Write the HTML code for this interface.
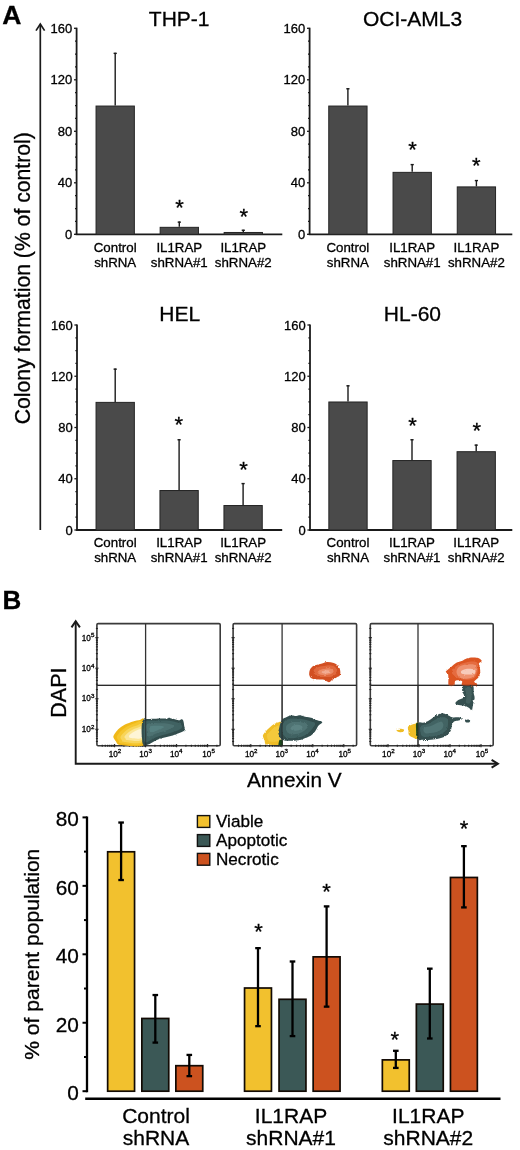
<!DOCTYPE html>
<html><head><meta charset="utf-8"><title>Figure</title>
<style>
html,body{margin:0;padding:0;background:#fff;}
svg{display:block;font-family:"Liberation Sans", sans-serif;will-change:transform;}
text{stroke:#000;stroke-width:0.3px;}
</style></head>
<body>
<svg width="520" height="1150" viewBox="0 0 520 1150" font-family='"Liberation Sans", sans-serif' fill="#000">
<defs><filter id="rough" x="-2%" y="-2%" width="104%" height="104%"><feTurbulence type="fractalNoise" baseFrequency="0.45" numOctaves="2" seed="7" result="n"/><feDisplacementMap in="SourceGraphic" in2="n" scale="2.4" xChannelSelector="R" yChannelSelector="G"/></filter></defs>
<rect width="520" height="1150" fill="#fff"/>
<text x="2.2" y="23.8" font-size="26.5" font-weight="bold">A</text>
<line x1="40.3" y1="24.5" x2="40.3" y2="530" stroke="#1a1a1a" stroke-width="1.7"/>
<polyline points="36,30.6 40.3,24 44.6,30.6" fill="none" stroke="#1a1a1a" stroke-width="1.7" stroke-linejoin="miter"/>
<text transform="translate(30.2,278.2) rotate(-90)" font-size="21.2" text-anchor="middle">Colony formation (% of control)</text>
<line x1="76.6" y1="27.7" x2="76.6" y2="235" stroke="#1a1a1a" stroke-width="1.8"/>
<line x1="74" y1="234.3" x2="76.6" y2="234.3" stroke="#1a1a1a" stroke-width="1.3"/>
<text x="72.3" y="238.9" font-size="13" text-anchor="end">0</text>
<line x1="75" y1="221.43" x2="76.6" y2="221.43" stroke="#1a1a1a" stroke-width="1.3"/>
<line x1="75" y1="208.55" x2="76.6" y2="208.55" stroke="#1a1a1a" stroke-width="1.3"/>
<line x1="75" y1="195.68" x2="76.6" y2="195.68" stroke="#1a1a1a" stroke-width="1.3"/>
<line x1="74" y1="182.8" x2="76.6" y2="182.8" stroke="#1a1a1a" stroke-width="1.3"/>
<text x="72.3" y="187.4" font-size="13" text-anchor="end">40</text>
<line x1="75" y1="169.93" x2="76.6" y2="169.93" stroke="#1a1a1a" stroke-width="1.3"/>
<line x1="75" y1="157.05" x2="76.6" y2="157.05" stroke="#1a1a1a" stroke-width="1.3"/>
<line x1="75" y1="144.18" x2="76.6" y2="144.18" stroke="#1a1a1a" stroke-width="1.3"/>
<line x1="74" y1="131.3" x2="76.6" y2="131.3" stroke="#1a1a1a" stroke-width="1.3"/>
<text x="72.3" y="135.9" font-size="13" text-anchor="end">80</text>
<line x1="75" y1="118.42" x2="76.6" y2="118.42" stroke="#1a1a1a" stroke-width="1.3"/>
<line x1="75" y1="105.55" x2="76.6" y2="105.55" stroke="#1a1a1a" stroke-width="1.3"/>
<line x1="75" y1="92.68" x2="76.6" y2="92.68" stroke="#1a1a1a" stroke-width="1.3"/>
<line x1="74" y1="79.8" x2="76.6" y2="79.8" stroke="#1a1a1a" stroke-width="1.3"/>
<text x="72.3" y="84.4" font-size="13" text-anchor="end">120</text>
<line x1="75" y1="66.93" x2="76.6" y2="66.93" stroke="#1a1a1a" stroke-width="1.3"/>
<line x1="75" y1="54.05" x2="76.6" y2="54.05" stroke="#1a1a1a" stroke-width="1.3"/>
<line x1="75" y1="41.18" x2="76.6" y2="41.18" stroke="#1a1a1a" stroke-width="1.3"/>
<line x1="74" y1="28.3" x2="76.6" y2="28.3" stroke="#1a1a1a" stroke-width="1.3"/>
<text x="72.3" y="32.9" font-size="13" text-anchor="end">160</text>
<line x1="75.7" y1="234.3" x2="282.3" y2="234.3" stroke="#1a1a1a" stroke-width="1.8"/>
<rect x="96.05" y="106.05" width="38.3" height="128.25" fill="#4a4a4a" stroke="#242424" stroke-width="1"/>
<line x1="115.2" y1="52.76" x2="115.2" y2="105.55" stroke="#1a1a1a" stroke-width="1.4"/>
<line x1="113.6" y1="53.36" x2="116.8" y2="53.36" stroke="#1a1a1a" stroke-width="1.4"/>
<rect x="160.15" y="227.33" width="38.3" height="6.97" fill="#4a4a4a" stroke="#242424" stroke-width="1"/>
<line x1="179.3" y1="221.55" x2="179.3" y2="226.83" stroke="#1a1a1a" stroke-width="1.4"/>
<line x1="177.7" y1="222.15" x2="180.9" y2="222.15" stroke="#1a1a1a" stroke-width="1.4"/>
<text x="179.6" y="214.9" font-size="22" text-anchor="middle" dy="0.4">*</text>
<rect x="224.15" y="232.48" width="38.3" height="1.82" fill="#4a4a4a" stroke="#242424" stroke-width="1"/>
<line x1="243.3" y1="229.67" x2="243.3" y2="231.98" stroke="#1a1a1a" stroke-width="1.4"/>
<line x1="241.7" y1="230.27" x2="244.9" y2="230.27" stroke="#1a1a1a" stroke-width="1.4"/>
<text x="243.7" y="223.5" font-size="22" text-anchor="middle" dy="0.4">*</text>
<text x="179.2" y="25.5" font-size="21" text-anchor="middle">THP-1</text>
<text x="115.2" y="252.2" font-size="13.3" text-anchor="middle">Control</text>
<text x="115.2" y="267.2" font-size="13.3" text-anchor="middle">shRNA</text>
<text x="179.3" y="252.2" font-size="13.3" text-anchor="middle">IL1RAP</text>
<text x="179.3" y="267.2" font-size="13.3" text-anchor="middle">shRNA#1</text>
<text x="243.3" y="252.2" font-size="13.3" text-anchor="middle">IL1RAP</text>
<text x="243.3" y="267.2" font-size="13.3" text-anchor="middle">shRNA#2</text>
<line x1="309.6" y1="27.7" x2="309.6" y2="235" stroke="#1a1a1a" stroke-width="1.8"/>
<line x1="307" y1="234.3" x2="309.6" y2="234.3" stroke="#1a1a1a" stroke-width="1.3"/>
<text x="305.3" y="238.9" font-size="13" text-anchor="end">0</text>
<line x1="308" y1="221.43" x2="309.6" y2="221.43" stroke="#1a1a1a" stroke-width="1.3"/>
<line x1="308" y1="208.55" x2="309.6" y2="208.55" stroke="#1a1a1a" stroke-width="1.3"/>
<line x1="308" y1="195.68" x2="309.6" y2="195.68" stroke="#1a1a1a" stroke-width="1.3"/>
<line x1="307" y1="182.8" x2="309.6" y2="182.8" stroke="#1a1a1a" stroke-width="1.3"/>
<text x="305.3" y="187.4" font-size="13" text-anchor="end">40</text>
<line x1="308" y1="169.93" x2="309.6" y2="169.93" stroke="#1a1a1a" stroke-width="1.3"/>
<line x1="308" y1="157.05" x2="309.6" y2="157.05" stroke="#1a1a1a" stroke-width="1.3"/>
<line x1="308" y1="144.18" x2="309.6" y2="144.18" stroke="#1a1a1a" stroke-width="1.3"/>
<line x1="307" y1="131.3" x2="309.6" y2="131.3" stroke="#1a1a1a" stroke-width="1.3"/>
<text x="305.3" y="135.9" font-size="13" text-anchor="end">80</text>
<line x1="308" y1="118.42" x2="309.6" y2="118.42" stroke="#1a1a1a" stroke-width="1.3"/>
<line x1="308" y1="105.55" x2="309.6" y2="105.55" stroke="#1a1a1a" stroke-width="1.3"/>
<line x1="308" y1="92.68" x2="309.6" y2="92.68" stroke="#1a1a1a" stroke-width="1.3"/>
<line x1="307" y1="79.8" x2="309.6" y2="79.8" stroke="#1a1a1a" stroke-width="1.3"/>
<text x="305.3" y="84.4" font-size="13" text-anchor="end">120</text>
<line x1="308" y1="66.93" x2="309.6" y2="66.93" stroke="#1a1a1a" stroke-width="1.3"/>
<line x1="308" y1="54.05" x2="309.6" y2="54.05" stroke="#1a1a1a" stroke-width="1.3"/>
<line x1="308" y1="41.18" x2="309.6" y2="41.18" stroke="#1a1a1a" stroke-width="1.3"/>
<line x1="307" y1="28.3" x2="309.6" y2="28.3" stroke="#1a1a1a" stroke-width="1.3"/>
<text x="305.3" y="32.9" font-size="13" text-anchor="end">160</text>
<line x1="308.7" y1="234.3" x2="512.3" y2="234.3" stroke="#1a1a1a" stroke-width="1.8"/>
<rect x="328.75" y="106.05" width="38.3" height="128.25" fill="#4a4a4a" stroke="#242424" stroke-width="1"/>
<line x1="347.9" y1="88.17" x2="347.9" y2="105.55" stroke="#1a1a1a" stroke-width="1.4"/>
<line x1="346.3" y1="88.77" x2="349.5" y2="88.77" stroke="#1a1a1a" stroke-width="1.4"/>
<rect x="393.05" y="172.36" width="38.3" height="61.94" fill="#4a4a4a" stroke="#242424" stroke-width="1"/>
<line x1="412.2" y1="164" x2="412.2" y2="171.86" stroke="#1a1a1a" stroke-width="1.4"/>
<line x1="410.6" y1="164.6" x2="413.8" y2="164.6" stroke="#1a1a1a" stroke-width="1.4"/>
<text x="412.6" y="156.6" font-size="22" text-anchor="middle" dy="0.4">*</text>
<rect x="457.25" y="186.91" width="38.3" height="47.4" fill="#4a4a4a" stroke="#242424" stroke-width="1"/>
<line x1="476.4" y1="179.97" x2="476.4" y2="186.41" stroke="#1a1a1a" stroke-width="1.4"/>
<line x1="474.8" y1="180.57" x2="478" y2="180.57" stroke="#1a1a1a" stroke-width="1.4"/>
<text x="476.3" y="172.6" font-size="22" text-anchor="middle" dy="0.4">*</text>
<text x="412.6" y="25.8" font-size="21" text-anchor="middle">OCI-AML3</text>
<text x="347.9" y="252.2" font-size="13.3" text-anchor="middle">Control</text>
<text x="347.9" y="267.2" font-size="13.3" text-anchor="middle">shRNA</text>
<text x="412.2" y="252.2" font-size="13.3" text-anchor="middle">IL1RAP</text>
<text x="412.2" y="267.2" font-size="13.3" text-anchor="middle">shRNA#1</text>
<text x="476.4" y="252.2" font-size="13.3" text-anchor="middle">IL1RAP</text>
<text x="476.4" y="267.2" font-size="13.3" text-anchor="middle">shRNA#2</text>
<line x1="77" y1="324.4" x2="77" y2="530.7" stroke="#1a1a1a" stroke-width="1.8"/>
<line x1="74.4" y1="530" x2="77" y2="530" stroke="#1a1a1a" stroke-width="1.3"/>
<text x="72.7" y="534.6" font-size="13" text-anchor="end">0</text>
<line x1="75.4" y1="517.19" x2="77" y2="517.19" stroke="#1a1a1a" stroke-width="1.3"/>
<line x1="75.4" y1="504.38" x2="77" y2="504.38" stroke="#1a1a1a" stroke-width="1.3"/>
<line x1="75.4" y1="491.56" x2="77" y2="491.56" stroke="#1a1a1a" stroke-width="1.3"/>
<line x1="74.4" y1="478.75" x2="77" y2="478.75" stroke="#1a1a1a" stroke-width="1.3"/>
<text x="72.7" y="483.35" font-size="13" text-anchor="end">40</text>
<line x1="75.4" y1="465.94" x2="77" y2="465.94" stroke="#1a1a1a" stroke-width="1.3"/>
<line x1="75.4" y1="453.12" x2="77" y2="453.12" stroke="#1a1a1a" stroke-width="1.3"/>
<line x1="75.4" y1="440.31" x2="77" y2="440.31" stroke="#1a1a1a" stroke-width="1.3"/>
<line x1="74.4" y1="427.5" x2="77" y2="427.5" stroke="#1a1a1a" stroke-width="1.3"/>
<text x="72.7" y="432.1" font-size="13" text-anchor="end">80</text>
<line x1="75.4" y1="414.69" x2="77" y2="414.69" stroke="#1a1a1a" stroke-width="1.3"/>
<line x1="75.4" y1="401.88" x2="77" y2="401.88" stroke="#1a1a1a" stroke-width="1.3"/>
<line x1="75.4" y1="389.06" x2="77" y2="389.06" stroke="#1a1a1a" stroke-width="1.3"/>
<line x1="74.4" y1="376.25" x2="77" y2="376.25" stroke="#1a1a1a" stroke-width="1.3"/>
<text x="72.7" y="380.85" font-size="13" text-anchor="end">120</text>
<line x1="75.4" y1="363.44" x2="77" y2="363.44" stroke="#1a1a1a" stroke-width="1.3"/>
<line x1="75.4" y1="350.62" x2="77" y2="350.62" stroke="#1a1a1a" stroke-width="1.3"/>
<line x1="75.4" y1="337.81" x2="77" y2="337.81" stroke="#1a1a1a" stroke-width="1.3"/>
<line x1="74.4" y1="325" x2="77" y2="325" stroke="#1a1a1a" stroke-width="1.3"/>
<text x="72.7" y="329.6" font-size="13" text-anchor="end">160</text>
<line x1="76.1" y1="530" x2="282.2" y2="530" stroke="#1a1a1a" stroke-width="1.8"/>
<rect x="96.05" y="402.38" width="38.3" height="127.62" fill="#4a4a4a" stroke="#242424" stroke-width="1"/>
<line x1="115.2" y1="368.56" x2="115.2" y2="401.88" stroke="#1a1a1a" stroke-width="1.4"/>
<line x1="113.6" y1="369.16" x2="116.8" y2="369.16" stroke="#1a1a1a" stroke-width="1.4"/>
<rect x="159.95" y="490.52" width="38.3" height="39.48" fill="#4a4a4a" stroke="#242424" stroke-width="1"/>
<line x1="179.1" y1="439.16" x2="179.1" y2="490.02" stroke="#1a1a1a" stroke-width="1.4"/>
<line x1="177.5" y1="439.76" x2="180.7" y2="439.76" stroke="#1a1a1a" stroke-width="1.4"/>
<text x="178.8" y="431.7" font-size="22" text-anchor="middle" dy="0.4">*</text>
<rect x="223.95" y="505.52" width="38.3" height="24.48" fill="#4a4a4a" stroke="#242424" stroke-width="1"/>
<line x1="243.1" y1="482.98" x2="243.1" y2="505.02" stroke="#1a1a1a" stroke-width="1.4"/>
<line x1="241.5" y1="483.58" x2="244.7" y2="483.58" stroke="#1a1a1a" stroke-width="1.4"/>
<text x="243.5" y="476.3" font-size="22" text-anchor="middle" dy="0.4">*</text>
<text x="179.8" y="320.9" font-size="21" text-anchor="middle">HEL</text>
<text x="115.2" y="547.3" font-size="13.3" text-anchor="middle">Control</text>
<text x="115.2" y="562.3" font-size="13.3" text-anchor="middle">shRNA</text>
<text x="179.1" y="547.3" font-size="13.3" text-anchor="middle">IL1RAP</text>
<text x="179.1" y="562.3" font-size="13.3" text-anchor="middle">shRNA#1</text>
<text x="243.1" y="547.3" font-size="13.3" text-anchor="middle">IL1RAP</text>
<text x="243.1" y="562.3" font-size="13.3" text-anchor="middle">shRNA#2</text>
<line x1="310" y1="324.4" x2="310" y2="530.7" stroke="#1a1a1a" stroke-width="1.8"/>
<line x1="307.4" y1="530" x2="310" y2="530" stroke="#1a1a1a" stroke-width="1.3"/>
<text x="305.7" y="534.6" font-size="13" text-anchor="end">0</text>
<line x1="308.4" y1="517.19" x2="310" y2="517.19" stroke="#1a1a1a" stroke-width="1.3"/>
<line x1="308.4" y1="504.38" x2="310" y2="504.38" stroke="#1a1a1a" stroke-width="1.3"/>
<line x1="308.4" y1="491.56" x2="310" y2="491.56" stroke="#1a1a1a" stroke-width="1.3"/>
<line x1="307.4" y1="478.75" x2="310" y2="478.75" stroke="#1a1a1a" stroke-width="1.3"/>
<text x="305.7" y="483.35" font-size="13" text-anchor="end">40</text>
<line x1="308.4" y1="465.94" x2="310" y2="465.94" stroke="#1a1a1a" stroke-width="1.3"/>
<line x1="308.4" y1="453.12" x2="310" y2="453.12" stroke="#1a1a1a" stroke-width="1.3"/>
<line x1="308.4" y1="440.31" x2="310" y2="440.31" stroke="#1a1a1a" stroke-width="1.3"/>
<line x1="307.4" y1="427.5" x2="310" y2="427.5" stroke="#1a1a1a" stroke-width="1.3"/>
<text x="305.7" y="432.1" font-size="13" text-anchor="end">80</text>
<line x1="308.4" y1="414.69" x2="310" y2="414.69" stroke="#1a1a1a" stroke-width="1.3"/>
<line x1="308.4" y1="401.88" x2="310" y2="401.88" stroke="#1a1a1a" stroke-width="1.3"/>
<line x1="308.4" y1="389.06" x2="310" y2="389.06" stroke="#1a1a1a" stroke-width="1.3"/>
<line x1="307.4" y1="376.25" x2="310" y2="376.25" stroke="#1a1a1a" stroke-width="1.3"/>
<text x="305.7" y="380.85" font-size="13" text-anchor="end">120</text>
<line x1="308.4" y1="363.44" x2="310" y2="363.44" stroke="#1a1a1a" stroke-width="1.3"/>
<line x1="308.4" y1="350.62" x2="310" y2="350.62" stroke="#1a1a1a" stroke-width="1.3"/>
<line x1="308.4" y1="337.81" x2="310" y2="337.81" stroke="#1a1a1a" stroke-width="1.3"/>
<line x1="307.4" y1="325" x2="310" y2="325" stroke="#1a1a1a" stroke-width="1.3"/>
<text x="305.7" y="329.6" font-size="13" text-anchor="end">160</text>
<line x1="309.1" y1="530" x2="512.3" y2="530" stroke="#1a1a1a" stroke-width="1.8"/>
<rect x="328.85" y="401.99" width="38.3" height="128.01" fill="#4a4a4a" stroke="#242424" stroke-width="1"/>
<line x1="348" y1="385.22" x2="348" y2="401.49" stroke="#1a1a1a" stroke-width="1.4"/>
<line x1="346.4" y1="385.82" x2="349.6" y2="385.82" stroke="#1a1a1a" stroke-width="1.4"/>
<rect x="392.85" y="460.54" width="38.3" height="69.46" fill="#4a4a4a" stroke="#242424" stroke-width="1"/>
<line x1="412" y1="439.16" x2="412" y2="460.04" stroke="#1a1a1a" stroke-width="1.4"/>
<line x1="410.4" y1="439.76" x2="413.6" y2="439.76" stroke="#1a1a1a" stroke-width="1.4"/>
<text x="412.5" y="432.4" font-size="22" text-anchor="middle" dy="0.4">*</text>
<rect x="457.05" y="451.7" width="38.3" height="78.3" fill="#4a4a4a" stroke="#242424" stroke-width="1"/>
<line x1="476.2" y1="444.54" x2="476.2" y2="451.2" stroke="#1a1a1a" stroke-width="1.4"/>
<line x1="474.6" y1="445.14" x2="477.8" y2="445.14" stroke="#1a1a1a" stroke-width="1.4"/>
<text x="476.9" y="437.7" font-size="22" text-anchor="middle" dy="0.4">*</text>
<text x="412.4" y="321.3" font-size="21" text-anchor="middle">HL-60</text>
<text x="348" y="547.3" font-size="13.3" text-anchor="middle">Control</text>
<text x="348" y="562.3" font-size="13.3" text-anchor="middle">shRNA</text>
<text x="412" y="547.3" font-size="13.3" text-anchor="middle">IL1RAP</text>
<text x="412" y="562.3" font-size="13.3" text-anchor="middle">shRNA#1</text>
<text x="476.2" y="547.3" font-size="13.3" text-anchor="middle">IL1RAP</text>
<text x="476.2" y="562.3" font-size="13.3" text-anchor="middle">shRNA#2</text>
<text x="2.6" y="609" font-size="26" font-weight="bold">B</text>
<polyline points="75.7,621.5 75.7,763.8 497.5,763.8" fill="none" stroke="#1a1a1a" stroke-width="1.9"/>
<polyline points="71.5,627.4 75.7,621.2 79.9,627.4" fill="none" stroke="#1a1a1a" stroke-width="2"/>
<polyline points="491.6,759.9 497.9,763.8 491.6,767.7" fill="none" stroke="#1a1a1a" stroke-width="2"/>
<text transform="translate(66.3,692.6) rotate(-90)" font-size="21.5" text-anchor="middle">DAPI</text>
<text x="294.3" y="786.5" font-size="20.8" text-anchor="middle">Annexin V</text>
<rect x="96.9" y="623.6" width="123.3" height="122.1" rx="1.2" fill="none" stroke="#3a3a3a" stroke-width="1.6"/>
<line x1="145.6" y1="623.6" x2="145.6" y2="745.7" stroke="#333" stroke-width="1.3"/>
<line x1="96.9" y1="685.4" x2="220.2" y2="685.4" stroke="#333" stroke-width="1.3"/>
<text x="108.7" y="756.8" font-size="8.2" stroke="#000" stroke-width="0.35">10<tspan font-size="6.2" dy="-3.4">2</tspan></text>
<text x="139.3" y="756.8" font-size="8.2" stroke="#000" stroke-width="0.35">10<tspan font-size="6.2" dy="-3.4">3</tspan></text>
<text x="170" y="756.8" font-size="8.2" stroke="#000" stroke-width="0.35">10<tspan font-size="6.2" dy="-3.4">4</tspan></text>
<text x="202.3" y="756.8" font-size="8.2" stroke="#000" stroke-width="0.35">10<tspan font-size="6.2" dy="-3.4">5</tspan></text>
<line x1="95.9" y1="741.46" x2="97.9" y2="741.46" stroke="#222" stroke-width="1.1"/>
<line x1="95.9" y1="738.5" x2="97.9" y2="738.5" stroke="#222" stroke-width="1.1"/>
<line x1="95.9" y1="736.08" x2="97.9" y2="736.08" stroke="#222" stroke-width="1.1"/>
<line x1="95.9" y1="734.03" x2="97.9" y2="734.03" stroke="#222" stroke-width="1.1"/>
<line x1="95.9" y1="732.26" x2="97.9" y2="732.26" stroke="#222" stroke-width="1.1"/>
<line x1="95.9" y1="730.7" x2="97.9" y2="730.7" stroke="#222" stroke-width="1.1"/>
<line x1="95.3" y1="729.3" x2="98.5" y2="729.3" stroke="#222" stroke-width="1.1"/>
<line x1="95.9" y1="720.1" x2="97.9" y2="720.1" stroke="#222" stroke-width="1.1"/>
<line x1="95.9" y1="714.72" x2="97.9" y2="714.72" stroke="#222" stroke-width="1.1"/>
<line x1="95.9" y1="710.91" x2="97.9" y2="710.91" stroke="#222" stroke-width="1.1"/>
<line x1="95.9" y1="707.95" x2="97.9" y2="707.95" stroke="#222" stroke-width="1.1"/>
<line x1="95.9" y1="705.53" x2="97.9" y2="705.53" stroke="#222" stroke-width="1.1"/>
<line x1="95.9" y1="703.48" x2="97.9" y2="703.48" stroke="#222" stroke-width="1.1"/>
<line x1="95.9" y1="701.71" x2="97.9" y2="701.71" stroke="#222" stroke-width="1.1"/>
<line x1="95.9" y1="700.15" x2="97.9" y2="700.15" stroke="#222" stroke-width="1.1"/>
<line x1="95.3" y1="698.75" x2="98.5" y2="698.75" stroke="#222" stroke-width="1.1"/>
<line x1="95.9" y1="689.55" x2="97.9" y2="689.55" stroke="#222" stroke-width="1.1"/>
<line x1="95.9" y1="684.17" x2="97.9" y2="684.17" stroke="#222" stroke-width="1.1"/>
<line x1="95.9" y1="680.36" x2="97.9" y2="680.36" stroke="#222" stroke-width="1.1"/>
<line x1="95.9" y1="677.4" x2="97.9" y2="677.4" stroke="#222" stroke-width="1.1"/>
<line x1="95.9" y1="674.98" x2="97.9" y2="674.98" stroke="#222" stroke-width="1.1"/>
<line x1="95.9" y1="672.93" x2="97.9" y2="672.93" stroke="#222" stroke-width="1.1"/>
<line x1="95.9" y1="671.16" x2="97.9" y2="671.16" stroke="#222" stroke-width="1.1"/>
<line x1="95.9" y1="669.6" x2="97.9" y2="669.6" stroke="#222" stroke-width="1.1"/>
<line x1="95.3" y1="668.2" x2="98.5" y2="668.2" stroke="#222" stroke-width="1.1"/>
<line x1="95.9" y1="659" x2="97.9" y2="659" stroke="#222" stroke-width="1.1"/>
<line x1="95.9" y1="653.62" x2="97.9" y2="653.62" stroke="#222" stroke-width="1.1"/>
<line x1="95.9" y1="649.81" x2="97.9" y2="649.81" stroke="#222" stroke-width="1.1"/>
<line x1="95.9" y1="646.85" x2="97.9" y2="646.85" stroke="#222" stroke-width="1.1"/>
<line x1="95.9" y1="644.43" x2="97.9" y2="644.43" stroke="#222" stroke-width="1.1"/>
<line x1="95.9" y1="642.38" x2="97.9" y2="642.38" stroke="#222" stroke-width="1.1"/>
<line x1="95.9" y1="640.61" x2="97.9" y2="640.61" stroke="#222" stroke-width="1.1"/>
<line x1="95.9" y1="639.05" x2="97.9" y2="639.05" stroke="#222" stroke-width="1.1"/>
<line x1="95.3" y1="637.65" x2="98.5" y2="637.65" stroke="#222" stroke-width="1.1"/>
<line x1="95.9" y1="628.45" x2="97.9" y2="628.45" stroke="#222" stroke-width="1.1"/>
<line x1="102.26" y1="744.7" x2="102.26" y2="746.7" stroke="#222" stroke-width="1.1"/>
<line x1="105.27" y1="744.7" x2="105.27" y2="746.7" stroke="#222" stroke-width="1.1"/>
<line x1="107.72" y1="744.7" x2="107.72" y2="746.7" stroke="#222" stroke-width="1.1"/>
<line x1="109.8" y1="744.7" x2="109.8" y2="746.7" stroke="#222" stroke-width="1.1"/>
<line x1="111.6" y1="744.7" x2="111.6" y2="746.7" stroke="#222" stroke-width="1.1"/>
<line x1="113.18" y1="744.7" x2="113.18" y2="746.7" stroke="#222" stroke-width="1.1"/>
<line x1="114.6" y1="744.1" x2="114.6" y2="747.3" stroke="#222" stroke-width="1.1"/>
<line x1="123.93" y1="744.7" x2="123.93" y2="746.7" stroke="#222" stroke-width="1.1"/>
<line x1="129.39" y1="744.7" x2="129.39" y2="746.7" stroke="#222" stroke-width="1.1"/>
<line x1="133.26" y1="744.7" x2="133.26" y2="746.7" stroke="#222" stroke-width="1.1"/>
<line x1="136.27" y1="744.7" x2="136.27" y2="746.7" stroke="#222" stroke-width="1.1"/>
<line x1="138.72" y1="744.7" x2="138.72" y2="746.7" stroke="#222" stroke-width="1.1"/>
<line x1="140.8" y1="744.7" x2="140.8" y2="746.7" stroke="#222" stroke-width="1.1"/>
<line x1="142.6" y1="744.7" x2="142.6" y2="746.7" stroke="#222" stroke-width="1.1"/>
<line x1="144.18" y1="744.7" x2="144.18" y2="746.7" stroke="#222" stroke-width="1.1"/>
<line x1="145.6" y1="744.1" x2="145.6" y2="747.3" stroke="#222" stroke-width="1.1"/>
<line x1="154.93" y1="744.7" x2="154.93" y2="746.7" stroke="#222" stroke-width="1.1"/>
<line x1="160.39" y1="744.7" x2="160.39" y2="746.7" stroke="#222" stroke-width="1.1"/>
<line x1="164.26" y1="744.7" x2="164.26" y2="746.7" stroke="#222" stroke-width="1.1"/>
<line x1="167.27" y1="744.7" x2="167.27" y2="746.7" stroke="#222" stroke-width="1.1"/>
<line x1="169.72" y1="744.7" x2="169.72" y2="746.7" stroke="#222" stroke-width="1.1"/>
<line x1="171.8" y1="744.7" x2="171.8" y2="746.7" stroke="#222" stroke-width="1.1"/>
<line x1="173.6" y1="744.7" x2="173.6" y2="746.7" stroke="#222" stroke-width="1.1"/>
<line x1="175.18" y1="744.7" x2="175.18" y2="746.7" stroke="#222" stroke-width="1.1"/>
<line x1="176.6" y1="744.1" x2="176.6" y2="747.3" stroke="#222" stroke-width="1.1"/>
<line x1="185.93" y1="744.7" x2="185.93" y2="746.7" stroke="#222" stroke-width="1.1"/>
<line x1="191.39" y1="744.7" x2="191.39" y2="746.7" stroke="#222" stroke-width="1.1"/>
<line x1="195.26" y1="744.7" x2="195.26" y2="746.7" stroke="#222" stroke-width="1.1"/>
<line x1="198.27" y1="744.7" x2="198.27" y2="746.7" stroke="#222" stroke-width="1.1"/>
<line x1="200.72" y1="744.7" x2="200.72" y2="746.7" stroke="#222" stroke-width="1.1"/>
<line x1="202.8" y1="744.7" x2="202.8" y2="746.7" stroke="#222" stroke-width="1.1"/>
<line x1="204.6" y1="744.7" x2="204.6" y2="746.7" stroke="#222" stroke-width="1.1"/>
<line x1="206.18" y1="744.7" x2="206.18" y2="746.7" stroke="#222" stroke-width="1.1"/>
<line x1="207.6" y1="744.1" x2="207.6" y2="747.3" stroke="#222" stroke-width="1.1"/>
<line x1="216.93" y1="744.7" x2="216.93" y2="746.7" stroke="#222" stroke-width="1.1"/>
<rect x="233.1" y="623.6" width="123.5" height="122.1" rx="1.2" fill="none" stroke="#3a3a3a" stroke-width="1.6"/>
<line x1="282.1" y1="623.6" x2="282.1" y2="745.7" stroke="#333" stroke-width="1.3"/>
<line x1="233.1" y1="685.4" x2="356.6" y2="685.4" stroke="#333" stroke-width="1.3"/>
<text x="244.9" y="756.8" font-size="8.2" stroke="#000" stroke-width="0.35">10<tspan font-size="6.2" dy="-3.4">2</tspan></text>
<text x="275.5" y="756.8" font-size="8.2" stroke="#000" stroke-width="0.35">10<tspan font-size="6.2" dy="-3.4">3</tspan></text>
<text x="306.2" y="756.8" font-size="8.2" stroke="#000" stroke-width="0.35">10<tspan font-size="6.2" dy="-3.4">4</tspan></text>
<text x="338.5" y="756.8" font-size="8.2" stroke="#000" stroke-width="0.35">10<tspan font-size="6.2" dy="-3.4">5</tspan></text>
<line x1="232.1" y1="741.46" x2="234.1" y2="741.46" stroke="#222" stroke-width="1.1"/>
<line x1="232.1" y1="738.5" x2="234.1" y2="738.5" stroke="#222" stroke-width="1.1"/>
<line x1="232.1" y1="736.08" x2="234.1" y2="736.08" stroke="#222" stroke-width="1.1"/>
<line x1="232.1" y1="734.03" x2="234.1" y2="734.03" stroke="#222" stroke-width="1.1"/>
<line x1="232.1" y1="732.26" x2="234.1" y2="732.26" stroke="#222" stroke-width="1.1"/>
<line x1="232.1" y1="730.7" x2="234.1" y2="730.7" stroke="#222" stroke-width="1.1"/>
<line x1="231.5" y1="729.3" x2="234.7" y2="729.3" stroke="#222" stroke-width="1.1"/>
<line x1="232.1" y1="720.1" x2="234.1" y2="720.1" stroke="#222" stroke-width="1.1"/>
<line x1="232.1" y1="714.72" x2="234.1" y2="714.72" stroke="#222" stroke-width="1.1"/>
<line x1="232.1" y1="710.91" x2="234.1" y2="710.91" stroke="#222" stroke-width="1.1"/>
<line x1="232.1" y1="707.95" x2="234.1" y2="707.95" stroke="#222" stroke-width="1.1"/>
<line x1="232.1" y1="705.53" x2="234.1" y2="705.53" stroke="#222" stroke-width="1.1"/>
<line x1="232.1" y1="703.48" x2="234.1" y2="703.48" stroke="#222" stroke-width="1.1"/>
<line x1="232.1" y1="701.71" x2="234.1" y2="701.71" stroke="#222" stroke-width="1.1"/>
<line x1="232.1" y1="700.15" x2="234.1" y2="700.15" stroke="#222" stroke-width="1.1"/>
<line x1="231.5" y1="698.75" x2="234.7" y2="698.75" stroke="#222" stroke-width="1.1"/>
<line x1="232.1" y1="689.55" x2="234.1" y2="689.55" stroke="#222" stroke-width="1.1"/>
<line x1="232.1" y1="684.17" x2="234.1" y2="684.17" stroke="#222" stroke-width="1.1"/>
<line x1="232.1" y1="680.36" x2="234.1" y2="680.36" stroke="#222" stroke-width="1.1"/>
<line x1="232.1" y1="677.4" x2="234.1" y2="677.4" stroke="#222" stroke-width="1.1"/>
<line x1="232.1" y1="674.98" x2="234.1" y2="674.98" stroke="#222" stroke-width="1.1"/>
<line x1="232.1" y1="672.93" x2="234.1" y2="672.93" stroke="#222" stroke-width="1.1"/>
<line x1="232.1" y1="671.16" x2="234.1" y2="671.16" stroke="#222" stroke-width="1.1"/>
<line x1="232.1" y1="669.6" x2="234.1" y2="669.6" stroke="#222" stroke-width="1.1"/>
<line x1="231.5" y1="668.2" x2="234.7" y2="668.2" stroke="#222" stroke-width="1.1"/>
<line x1="232.1" y1="659" x2="234.1" y2="659" stroke="#222" stroke-width="1.1"/>
<line x1="232.1" y1="653.62" x2="234.1" y2="653.62" stroke="#222" stroke-width="1.1"/>
<line x1="232.1" y1="649.81" x2="234.1" y2="649.81" stroke="#222" stroke-width="1.1"/>
<line x1="232.1" y1="646.85" x2="234.1" y2="646.85" stroke="#222" stroke-width="1.1"/>
<line x1="232.1" y1="644.43" x2="234.1" y2="644.43" stroke="#222" stroke-width="1.1"/>
<line x1="232.1" y1="642.38" x2="234.1" y2="642.38" stroke="#222" stroke-width="1.1"/>
<line x1="232.1" y1="640.61" x2="234.1" y2="640.61" stroke="#222" stroke-width="1.1"/>
<line x1="232.1" y1="639.05" x2="234.1" y2="639.05" stroke="#222" stroke-width="1.1"/>
<line x1="231.5" y1="637.65" x2="234.7" y2="637.65" stroke="#222" stroke-width="1.1"/>
<line x1="232.1" y1="628.45" x2="234.1" y2="628.45" stroke="#222" stroke-width="1.1"/>
<line x1="238.46" y1="744.7" x2="238.46" y2="746.7" stroke="#222" stroke-width="1.1"/>
<line x1="241.47" y1="744.7" x2="241.47" y2="746.7" stroke="#222" stroke-width="1.1"/>
<line x1="243.92" y1="744.7" x2="243.92" y2="746.7" stroke="#222" stroke-width="1.1"/>
<line x1="246" y1="744.7" x2="246" y2="746.7" stroke="#222" stroke-width="1.1"/>
<line x1="247.8" y1="744.7" x2="247.8" y2="746.7" stroke="#222" stroke-width="1.1"/>
<line x1="249.38" y1="744.7" x2="249.38" y2="746.7" stroke="#222" stroke-width="1.1"/>
<line x1="250.8" y1="744.1" x2="250.8" y2="747.3" stroke="#222" stroke-width="1.1"/>
<line x1="260.13" y1="744.7" x2="260.13" y2="746.7" stroke="#222" stroke-width="1.1"/>
<line x1="265.59" y1="744.7" x2="265.59" y2="746.7" stroke="#222" stroke-width="1.1"/>
<line x1="269.46" y1="744.7" x2="269.46" y2="746.7" stroke="#222" stroke-width="1.1"/>
<line x1="272.47" y1="744.7" x2="272.47" y2="746.7" stroke="#222" stroke-width="1.1"/>
<line x1="274.92" y1="744.7" x2="274.92" y2="746.7" stroke="#222" stroke-width="1.1"/>
<line x1="277" y1="744.7" x2="277" y2="746.7" stroke="#222" stroke-width="1.1"/>
<line x1="278.8" y1="744.7" x2="278.8" y2="746.7" stroke="#222" stroke-width="1.1"/>
<line x1="280.38" y1="744.7" x2="280.38" y2="746.7" stroke="#222" stroke-width="1.1"/>
<line x1="281.8" y1="744.1" x2="281.8" y2="747.3" stroke="#222" stroke-width="1.1"/>
<line x1="291.13" y1="744.7" x2="291.13" y2="746.7" stroke="#222" stroke-width="1.1"/>
<line x1="296.59" y1="744.7" x2="296.59" y2="746.7" stroke="#222" stroke-width="1.1"/>
<line x1="300.46" y1="744.7" x2="300.46" y2="746.7" stroke="#222" stroke-width="1.1"/>
<line x1="303.47" y1="744.7" x2="303.47" y2="746.7" stroke="#222" stroke-width="1.1"/>
<line x1="305.92" y1="744.7" x2="305.92" y2="746.7" stroke="#222" stroke-width="1.1"/>
<line x1="308" y1="744.7" x2="308" y2="746.7" stroke="#222" stroke-width="1.1"/>
<line x1="309.8" y1="744.7" x2="309.8" y2="746.7" stroke="#222" stroke-width="1.1"/>
<line x1="311.38" y1="744.7" x2="311.38" y2="746.7" stroke="#222" stroke-width="1.1"/>
<line x1="312.8" y1="744.1" x2="312.8" y2="747.3" stroke="#222" stroke-width="1.1"/>
<line x1="322.13" y1="744.7" x2="322.13" y2="746.7" stroke="#222" stroke-width="1.1"/>
<line x1="327.59" y1="744.7" x2="327.59" y2="746.7" stroke="#222" stroke-width="1.1"/>
<line x1="331.46" y1="744.7" x2="331.46" y2="746.7" stroke="#222" stroke-width="1.1"/>
<line x1="334.47" y1="744.7" x2="334.47" y2="746.7" stroke="#222" stroke-width="1.1"/>
<line x1="336.92" y1="744.7" x2="336.92" y2="746.7" stroke="#222" stroke-width="1.1"/>
<line x1="339" y1="744.7" x2="339" y2="746.7" stroke="#222" stroke-width="1.1"/>
<line x1="340.8" y1="744.7" x2="340.8" y2="746.7" stroke="#222" stroke-width="1.1"/>
<line x1="342.38" y1="744.7" x2="342.38" y2="746.7" stroke="#222" stroke-width="1.1"/>
<line x1="343.8" y1="744.1" x2="343.8" y2="747.3" stroke="#222" stroke-width="1.1"/>
<line x1="353.13" y1="744.7" x2="353.13" y2="746.7" stroke="#222" stroke-width="1.1"/>
<rect x="370.3" y="623.6" width="122.9" height="122.1" rx="1.2" fill="none" stroke="#3a3a3a" stroke-width="1.6"/>
<line x1="418" y1="623.6" x2="418" y2="745.7" stroke="#333" stroke-width="1.3"/>
<line x1="370.3" y1="685.4" x2="493.2" y2="685.4" stroke="#333" stroke-width="1.3"/>
<text x="382.1" y="756.8" font-size="8.2" stroke="#000" stroke-width="0.35">10<tspan font-size="6.2" dy="-3.4">2</tspan></text>
<text x="412.7" y="756.8" font-size="8.2" stroke="#000" stroke-width="0.35">10<tspan font-size="6.2" dy="-3.4">3</tspan></text>
<text x="443.4" y="756.8" font-size="8.2" stroke="#000" stroke-width="0.35">10<tspan font-size="6.2" dy="-3.4">4</tspan></text>
<text x="475.7" y="756.8" font-size="8.2" stroke="#000" stroke-width="0.35">10<tspan font-size="6.2" dy="-3.4">5</tspan></text>
<line x1="369.3" y1="741.46" x2="371.3" y2="741.46" stroke="#222" stroke-width="1.1"/>
<line x1="369.3" y1="738.5" x2="371.3" y2="738.5" stroke="#222" stroke-width="1.1"/>
<line x1="369.3" y1="736.08" x2="371.3" y2="736.08" stroke="#222" stroke-width="1.1"/>
<line x1="369.3" y1="734.03" x2="371.3" y2="734.03" stroke="#222" stroke-width="1.1"/>
<line x1="369.3" y1="732.26" x2="371.3" y2="732.26" stroke="#222" stroke-width="1.1"/>
<line x1="369.3" y1="730.7" x2="371.3" y2="730.7" stroke="#222" stroke-width="1.1"/>
<line x1="368.7" y1="729.3" x2="371.9" y2="729.3" stroke="#222" stroke-width="1.1"/>
<line x1="369.3" y1="720.1" x2="371.3" y2="720.1" stroke="#222" stroke-width="1.1"/>
<line x1="369.3" y1="714.72" x2="371.3" y2="714.72" stroke="#222" stroke-width="1.1"/>
<line x1="369.3" y1="710.91" x2="371.3" y2="710.91" stroke="#222" stroke-width="1.1"/>
<line x1="369.3" y1="707.95" x2="371.3" y2="707.95" stroke="#222" stroke-width="1.1"/>
<line x1="369.3" y1="705.53" x2="371.3" y2="705.53" stroke="#222" stroke-width="1.1"/>
<line x1="369.3" y1="703.48" x2="371.3" y2="703.48" stroke="#222" stroke-width="1.1"/>
<line x1="369.3" y1="701.71" x2="371.3" y2="701.71" stroke="#222" stroke-width="1.1"/>
<line x1="369.3" y1="700.15" x2="371.3" y2="700.15" stroke="#222" stroke-width="1.1"/>
<line x1="368.7" y1="698.75" x2="371.9" y2="698.75" stroke="#222" stroke-width="1.1"/>
<line x1="369.3" y1="689.55" x2="371.3" y2="689.55" stroke="#222" stroke-width="1.1"/>
<line x1="369.3" y1="684.17" x2="371.3" y2="684.17" stroke="#222" stroke-width="1.1"/>
<line x1="369.3" y1="680.36" x2="371.3" y2="680.36" stroke="#222" stroke-width="1.1"/>
<line x1="369.3" y1="677.4" x2="371.3" y2="677.4" stroke="#222" stroke-width="1.1"/>
<line x1="369.3" y1="674.98" x2="371.3" y2="674.98" stroke="#222" stroke-width="1.1"/>
<line x1="369.3" y1="672.93" x2="371.3" y2="672.93" stroke="#222" stroke-width="1.1"/>
<line x1="369.3" y1="671.16" x2="371.3" y2="671.16" stroke="#222" stroke-width="1.1"/>
<line x1="369.3" y1="669.6" x2="371.3" y2="669.6" stroke="#222" stroke-width="1.1"/>
<line x1="368.7" y1="668.2" x2="371.9" y2="668.2" stroke="#222" stroke-width="1.1"/>
<line x1="369.3" y1="659" x2="371.3" y2="659" stroke="#222" stroke-width="1.1"/>
<line x1="369.3" y1="653.62" x2="371.3" y2="653.62" stroke="#222" stroke-width="1.1"/>
<line x1="369.3" y1="649.81" x2="371.3" y2="649.81" stroke="#222" stroke-width="1.1"/>
<line x1="369.3" y1="646.85" x2="371.3" y2="646.85" stroke="#222" stroke-width="1.1"/>
<line x1="369.3" y1="644.43" x2="371.3" y2="644.43" stroke="#222" stroke-width="1.1"/>
<line x1="369.3" y1="642.38" x2="371.3" y2="642.38" stroke="#222" stroke-width="1.1"/>
<line x1="369.3" y1="640.61" x2="371.3" y2="640.61" stroke="#222" stroke-width="1.1"/>
<line x1="369.3" y1="639.05" x2="371.3" y2="639.05" stroke="#222" stroke-width="1.1"/>
<line x1="368.7" y1="637.65" x2="371.9" y2="637.65" stroke="#222" stroke-width="1.1"/>
<line x1="369.3" y1="628.45" x2="371.3" y2="628.45" stroke="#222" stroke-width="1.1"/>
<line x1="375.66" y1="744.7" x2="375.66" y2="746.7" stroke="#222" stroke-width="1.1"/>
<line x1="378.67" y1="744.7" x2="378.67" y2="746.7" stroke="#222" stroke-width="1.1"/>
<line x1="381.12" y1="744.7" x2="381.12" y2="746.7" stroke="#222" stroke-width="1.1"/>
<line x1="383.2" y1="744.7" x2="383.2" y2="746.7" stroke="#222" stroke-width="1.1"/>
<line x1="385" y1="744.7" x2="385" y2="746.7" stroke="#222" stroke-width="1.1"/>
<line x1="386.58" y1="744.7" x2="386.58" y2="746.7" stroke="#222" stroke-width="1.1"/>
<line x1="388" y1="744.1" x2="388" y2="747.3" stroke="#222" stroke-width="1.1"/>
<line x1="397.33" y1="744.7" x2="397.33" y2="746.7" stroke="#222" stroke-width="1.1"/>
<line x1="402.79" y1="744.7" x2="402.79" y2="746.7" stroke="#222" stroke-width="1.1"/>
<line x1="406.66" y1="744.7" x2="406.66" y2="746.7" stroke="#222" stroke-width="1.1"/>
<line x1="409.67" y1="744.7" x2="409.67" y2="746.7" stroke="#222" stroke-width="1.1"/>
<line x1="412.12" y1="744.7" x2="412.12" y2="746.7" stroke="#222" stroke-width="1.1"/>
<line x1="414.2" y1="744.7" x2="414.2" y2="746.7" stroke="#222" stroke-width="1.1"/>
<line x1="416" y1="744.7" x2="416" y2="746.7" stroke="#222" stroke-width="1.1"/>
<line x1="417.58" y1="744.7" x2="417.58" y2="746.7" stroke="#222" stroke-width="1.1"/>
<line x1="419" y1="744.1" x2="419" y2="747.3" stroke="#222" stroke-width="1.1"/>
<line x1="428.33" y1="744.7" x2="428.33" y2="746.7" stroke="#222" stroke-width="1.1"/>
<line x1="433.79" y1="744.7" x2="433.79" y2="746.7" stroke="#222" stroke-width="1.1"/>
<line x1="437.66" y1="744.7" x2="437.66" y2="746.7" stroke="#222" stroke-width="1.1"/>
<line x1="440.67" y1="744.7" x2="440.67" y2="746.7" stroke="#222" stroke-width="1.1"/>
<line x1="443.12" y1="744.7" x2="443.12" y2="746.7" stroke="#222" stroke-width="1.1"/>
<line x1="445.2" y1="744.7" x2="445.2" y2="746.7" stroke="#222" stroke-width="1.1"/>
<line x1="447" y1="744.7" x2="447" y2="746.7" stroke="#222" stroke-width="1.1"/>
<line x1="448.58" y1="744.7" x2="448.58" y2="746.7" stroke="#222" stroke-width="1.1"/>
<line x1="450" y1="744.1" x2="450" y2="747.3" stroke="#222" stroke-width="1.1"/>
<line x1="459.33" y1="744.7" x2="459.33" y2="746.7" stroke="#222" stroke-width="1.1"/>
<line x1="464.79" y1="744.7" x2="464.79" y2="746.7" stroke="#222" stroke-width="1.1"/>
<line x1="468.66" y1="744.7" x2="468.66" y2="746.7" stroke="#222" stroke-width="1.1"/>
<line x1="471.67" y1="744.7" x2="471.67" y2="746.7" stroke="#222" stroke-width="1.1"/>
<line x1="474.12" y1="744.7" x2="474.12" y2="746.7" stroke="#222" stroke-width="1.1"/>
<line x1="476.2" y1="744.7" x2="476.2" y2="746.7" stroke="#222" stroke-width="1.1"/>
<line x1="478" y1="744.7" x2="478" y2="746.7" stroke="#222" stroke-width="1.1"/>
<line x1="479.58" y1="744.7" x2="479.58" y2="746.7" stroke="#222" stroke-width="1.1"/>
<line x1="481" y1="744.1" x2="481" y2="747.3" stroke="#222" stroke-width="1.1"/>
<line x1="490.33" y1="744.7" x2="490.33" y2="746.7" stroke="#222" stroke-width="1.1"/>
<text x="81.8" y="640.7" font-size="8.2" stroke="#000" stroke-width="0.35">10<tspan font-size="6.2" dy="-3.4">5</tspan></text>
<text x="81.8" y="671.1" font-size="8.2" stroke="#000" stroke-width="0.35">10<tspan font-size="6.2" dy="-3.4">4</tspan></text>
<text x="81.8" y="701.4" font-size="8.2" stroke="#000" stroke-width="0.35">10<tspan font-size="6.2" dy="-3.4">3</tspan></text>
<text x="81.8" y="732.4" font-size="8.2" stroke="#000" stroke-width="0.35">10<tspan font-size="6.2" dy="-3.4">2</tspan></text>
<path d="M113.3,736.6 C113.53,735.2 116.64,730.91 118,729.5 C119.36,728.09 123.25,725.45 125,724.5 C126.75,723.55 131.25,721.92 133,721.4 C134.75,720.88 138.72,720.21 140,720 C141.28,719.79 143.53,716.68 144,719.6 C144.47,722.52 146.8,742.04 144,745 C141.2,747.96 123.27,745.41 120,745 C116.73,744.59 116.78,742.48 116,741.5 C115.22,740.52 113.07,738 113.3,736.6 Z" fill="#f0b818"/>
<path d="M116.8,736.8 C117.17,735.38 119.39,732.58 121,731 C122.61,729.42 125.4,727.47 127.5,726.3 C129.6,725.13 132.82,723.79 135,723.2 C137.18,722.62 140.95,719.34 142,722.4 C143.05,725.46 145.07,740.42 142,743.6 C138.93,746.78 125.03,744.07 121.5,743.6 C117.97,743.13 119.2,741.52 118.5,740.5 C117.8,739.48 116.42,738.22 116.8,736.8 Z" fill="#f5c62e"/>
<path d="M120.5,736.8 C120.95,735.47 122.92,733.47 124.5,732 C126.08,730.53 127.92,729.08 130,728 C132.08,726.92 135.03,726 137,725.5 C138.97,725 141,722.25 141.8,725 C142.6,727.75 144.68,739.17 141.8,742 C138.92,744.83 127.83,742.33 124.5,742 C121.17,741.67 122.47,740.87 121.8,740 C121.13,739.13 120.05,738.13 120.5,736.8 Z" fill="#f8d55a"/>
<path d="M124.5,736.5 C124.92,735.55 126.58,733.97 128,732.8 C129.42,731.63 131.17,730.42 133,729.5 C134.83,728.58 137.57,727.72 139,727.3 C140.43,726.88 141.17,724.88 141.6,727 C142.03,729.12 143.95,737.83 141.6,740 C139.25,742.17 130.18,740.25 127.5,740 C124.82,739.75 126,739.08 125.5,738.5 C125,737.92 124.08,737.45 124.5,736.5 Z" fill="#fbe698"/>
<path d="M129,736 C129.17,735.17 130.67,733.95 132,733 C133.33,732.05 135.43,730.87 137,730.3 C138.57,729.73 140.67,728.32 141.4,729.6 C142.13,730.88 143.13,736.6 141.4,738 C139.67,739.4 133.07,738.33 131,738 C128.93,737.67 128.83,736.83 129,736 Z" fill="#fef5d6"/>
<g filter="url(#rough)">
<path d="M143.8,719.4 C146.34,718.74 150.38,718.88 155,718.7 C159.62,718.52 164,718.68 166.9,718.5 C169.8,718.32 167.18,717.44 169.5,717.8 C171.82,718.16 176.14,720.02 178.5,720.3 C180.86,720.58 180.36,719.16 181.3,719.2 C182.24,719.24 182.62,719.14 183.2,720.5 C183.78,721.86 183.92,724.04 184.2,726 C184.48,727.96 185.84,728.8 184.6,730.3 C183.36,731.8 180.58,732.4 178,733.5 C175.42,734.6 175.46,734.68 171.7,735.8 C167.94,736.92 163.62,737.46 159.2,739.1 C154.78,740.74 152.74,742.82 149.6,744 C146.46,745.18 145.02,746.2 143.5,745 C141.98,743.8 142.38,741.2 142,738 C141.62,734.8 141.54,732.2 141.6,729 C141.66,725.8 141.86,723.92 142.3,722 C142.74,720.08 141.26,720.06 143.8,719.4 Z" fill="#324e4e"/>
<path d="M145.5,721.5 C147.86,720.46 151.7,720.98 156,720.8 C160.3,720.62 163,720.3 167,720.6 C171,720.9 173.1,721.42 176,722.3 C178.9,723.18 180.6,723.66 181.5,725 C182.4,726.34 182.8,727.4 180.5,729 C178.2,730.6 174.5,731.5 170,733 C165.5,734.5 162,735 158,736.5 C154,738 152.6,739.4 150,740.5 C147.4,741.6 146.24,743.5 145,742 C143.76,740.5 143.96,736.2 143.8,733 C143.64,729.8 143.86,728.3 144.2,726 C144.54,723.7 143.14,722.54 145.5,721.5 Z" fill="#406262"/>
<path d="M147.5,724 C149.8,722.64 153.9,723.24 158,723.2 C162.1,723.16 164.8,723.14 168,723.8 C171.2,724.46 174.4,725.16 174,726.5 C173.6,727.84 169.6,729.1 166,730.5 C162.4,731.9 159.5,732.3 156,733.5 C152.5,734.7 150.4,737.2 148.5,736.5 C146.6,735.8 146.7,732.5 146.5,730 C146.3,727.5 145.2,725.36 147.5,724 Z" fill="#4d7171"/>
<path d="M150,726.5 C151.4,725.26 155.2,725.7 158,725.8 C160.8,725.9 164,726.16 164,727 C164,727.84 160.6,729 158,730 C155.4,731 152.6,732.7 151,732 C149.4,731.3 148.6,727.74 150,726.5 Z" fill="#568080"/>
<path d="M262.9,735.3 C263.3,733.96 266.82,730.23 268,729 C269.18,727.77 271.89,725.55 273,724.8 C274.11,724.05 276.57,722.95 277.5,722.6 C278.43,722.25 280.73,721.4 281,721.8 C281.27,722.2 280.01,724.69 279.8,726 C279.59,727.31 279.18,731.6 279.2,733 C279.22,734.4 279.73,736.65 280,738 C280.27,739.35 283.07,743.83 281.5,744.6 C279.93,745.37 268.47,745.08 266.5,744.6 C264.53,744.12 265.02,741.59 264.6,740.5 C264.18,739.41 262.5,736.64 262.9,735.3 Z" fill="#efbd26"/>
<path d="M267,735.5 C267.2,734.03 269.87,731.63 271,730.5 C272.13,729.37 274.41,727.63 275.5,727 C276.59,726.37 278.73,725 279.2,725.8 C279.67,726.6 278.92,731.04 279,733 C279.08,734.96 281.07,739.37 279.8,740.5 C278.53,741.63 271.21,742.17 269.5,741.5 C267.79,740.83 266.8,736.97 267,735.5 Z" fill="#f4c93a"/>
<path d="M278.9,729.2 C279.65,726.24 279.89,723.43 281.5,720.7 C283.11,717.97 283.58,718.69 285.8,717.5 C288.02,716.31 288.55,715.95 291,715.6 C293.45,715.25 294.06,716.05 296.3,716 C298.54,715.95 298.13,715.17 300.6,715.4 C303.07,715.63 304.19,716.39 306.9,717 C309.61,717.61 310.47,717.39 312.2,718 C313.93,718.61 312.81,718.97 314.3,719.6 C315.79,720.23 316.73,720.07 318.6,720.7 C320.47,721.33 322.3,721.18 322.3,722.3 C322.3,723.42 319.98,723.89 318.6,725.5 C317.22,727.11 317.64,727.36 316.4,729.2 C315.16,731.04 315.03,731.67 313.3,733.4 C311.57,735.13 311.24,735.36 309,736.6 C306.76,737.84 306.15,737.84 303.7,738.7 C301.25,739.56 301.7,739.81 298.5,740.3 C295.3,740.79 293.48,740.8 290,740.8 C286.52,740.8 285.96,741.05 283.6,740.3 C281.24,739.55 281.14,739.21 279.9,737.6 C278.66,735.99 278.53,735.36 278.3,733.4 C278.07,731.44 278.15,732.16 278.9,729.2 Z" fill="#324d4d"/>
<path d="M282,728.5 C282.12,725.47 282.37,724.22 284,722 C285.63,719.78 286.2,719.82 289,719 C291.8,718.18 292.5,718.38 296,718.5 C299.5,718.62 300.5,718.8 304,719.5 C307.5,720.2 308.43,720.57 311,721.5 C313.57,722.43 314.77,721.75 315,723.5 C315.23,725.25 314.1,726.43 312,729 C309.9,731.57 309.27,732.52 306,734.5 C302.73,736.48 301.97,736.68 298,737.5 C294.03,738.32 292.38,738.58 289,738 C285.62,737.42 285.13,737.22 283.5,735 C281.87,732.78 281.88,731.53 282,728.5 Z" fill="#416262"/>
<path d="M286,728 C286,725.67 286.67,724.9 289,723.5 C291.33,722.1 292.5,722.12 296,722 C299.5,721.88 301.2,722.07 304,723 C306.8,723.93 308.23,724.02 308,726 C307.77,727.98 305.8,729.63 303,731.5 C300.2,733.37 299.27,733.53 296,734 C292.73,734.47 291.33,734.9 289,733.5 C286.67,732.1 286,730.33 286,728 Z" fill="#4f7373"/>
<path d="M291,727.5 C291.7,726.33 292.67,725.47 295,725 C297.33,724.53 299.37,724.68 301,725.5 C302.63,726.32 302.93,727.33 302,728.5 C301.07,729.67 299.33,730.15 297,730.5 C294.67,730.85 293.4,730.7 292,730 C290.6,729.3 290.3,728.67 291,727.5 Z" fill="#5c8282"/>
<path d="M279.5,740 C279.9,739.55 282.2,740 282.5,740.5 C282.8,741 282.9,744.55 282.5,745 C282.1,745.45 278.8,745.5 278.5,745 C278.2,744.5 279.1,740.45 279.5,740 Z" fill="#1f4a1a"/>
<path d="M309.6,670.7 C310.08,668.9 311.04,668.06 312,667 C312.96,665.94 312.38,666.1 314.4,665.4 C316.42,664.7 319.6,664.18 322.1,663.5 C324.6,662.82 324.58,662.1 326.9,662 C329.22,661.9 331.58,662.32 333.7,663 C335.82,663.68 336.26,664.16 337.5,665.4 C338.74,666.64 339.4,667.28 339.9,669.2 C340.4,671.12 340.68,673.36 340,675 C339.32,676.64 338.1,676.4 336.5,677.4 C334.9,678.4 333.54,679.04 332,680 C330.46,680.96 330.4,682.24 328.8,682.2 C327.2,682.16 326.16,680.34 324,679.8 C321.84,679.26 320.3,679.7 318,679.5 C315.7,679.3 314.18,679.5 312.5,678.8 C310.82,678.1 310.18,677.62 309.6,676 C309.02,674.38 309.12,672.5 309.6,670.7 Z" fill="#d24f22"/>
<path d="M313.5,671 C313.5,669.3 314.9,668.5 317,667.5 C319.1,666.5 321.2,666.4 324,666 C326.8,665.6 328.6,665.1 331,665.5 C333.4,665.9 334.9,666.5 336,668 C337.1,669.5 337.3,671.3 336.5,673 C335.7,674.7 334.3,675.7 332,676.5 C329.7,677.3 328,677.1 325,677 C322,676.9 319.3,677.2 317,676 C314.7,674.8 313.5,672.7 313.5,671 Z" fill="#e0683c"/>
<path d="M318,671.5 C318.8,670.5 320.6,669.6 323,669 C325.4,668.4 327.9,668.1 330,668.5 C332.1,668.9 333.3,669.9 333.5,671 C333.7,672.1 332.9,673.2 331,674 C329.1,674.8 326.4,675 324,675 C321.6,675 320.2,674.7 319,674 C317.8,673.3 317.2,672.5 318,671.5 Z" fill="#eb8a66"/>
<path d="M322,671.5 C322.8,670.92 325.2,670.3 327,670.3 C328.8,670.3 330.8,670.9 331,671.5 C331.2,672.1 329.6,672.96 328,673.3 C326.4,673.64 324.2,673.56 323,673.2 C321.8,672.84 321.2,672.08 322,671.5 Z" fill="#f2ab92"/>
<path d="M396.5,730.3 C396.5,729.66 397.52,728.96 399,728.8 C400.48,728.64 403.1,728.9 403.9,729.5 C404.7,730.1 403.98,731.3 403,731.8 C402.02,732.3 400.3,732.3 399,732 C397.7,731.7 396.5,730.94 396.5,730.3 Z" fill="#efbd26"/>
<path d="M408,727 C408.5,725.8 409.6,725.64 411,725 C412.4,724.36 413.6,724.1 415,723.8 C416.4,723.5 417.4,720.72 418,723.5 C418.6,726.28 419,734.9 418,737.7 C417,740.5 414.8,738.04 413,737.5 C411.2,736.96 409.9,736.3 409,735 C408.1,733.7 408.7,732.6 408.5,731 C408.3,729.4 407.5,728.2 408,727 Z" fill="#efbd26"/>
<path d="M416,724 C416.2,722.6 418.2,722.1 418.5,723.5 C418.8,724.9 419.2,736.6 419,738 C418.8,739.4 416.8,738.9 416.5,737.5 C416.2,736.1 415.8,725.4 416,724 Z" fill="#1f4a1a"/>
<path d="M418.5,723.8 C419.4,720.66 421.18,723.3 423,722.8 C424.82,722.3 425.7,722.24 427.6,721.3 C429.5,720.36 430.54,719.4 432.5,718.1 C434.46,716.8 435.44,715.78 437.4,714.8 C439.36,713.82 440.34,713.2 442.3,713.2 C444.26,713.2 445.24,713.98 447.2,714.8 C449.16,715.62 449.82,716.8 452.1,717.3 C454.38,717.8 456.64,716.98 458.6,717.3 C460.56,717.62 461.9,718.26 461.9,718.9 C461.9,719.54 460.06,720.02 458.6,720.5 C457.14,720.98 455.9,720.48 454.6,721.3 C453.3,722.12 452.92,722.62 452.1,724.6 C451.28,726.58 451.8,728.9 450.5,731.2 C449.2,733.5 447.9,734.64 445.6,736.1 C443.3,737.56 441.94,737.78 439,738.5 C436.06,739.22 434.16,739.46 430.9,739.7 C427.64,739.94 425.18,739.94 422.7,739.7 C420.22,739.46 419.34,741.68 418.5,738.5 C417.66,735.32 417.6,726.94 418.5,723.8 Z" fill="#34504f"/>
<path d="M421,726 C422.5,724.4 425.4,725.1 428,724 C430.6,722.9 431.4,721.8 434,720.5 C436.6,719.2 438.4,717.9 441,717.5 C443.6,717.1 445.6,717.2 447,718.5 C448.4,719.8 448.2,721.7 448,724 C447.8,726.3 447.6,727.9 446,730 C444.4,732.1 443,733.2 440,734.5 C437,735.8 434.4,736.1 431,736.5 C427.6,736.9 425.1,737.4 423,736.5 C420.9,735.6 420.9,734.1 420.5,732 C420.1,729.9 419.5,727.6 421,726 Z" fill="#426464"/>
<path d="M424,728 C425.2,726.6 428.4,727 431,726 C433.6,725 434.8,723.8 437,723 C439.2,722.2 440.8,721.2 442,722 C443.2,722.8 443.6,725.2 443,727 C442.4,728.8 441.4,729.8 439,731 C436.6,732.2 433.8,732.6 431,733 C428.2,733.4 426.4,734 425,733 C423.6,732 422.8,729.4 424,728 Z" fill="#517575"/>
<path d="M465.2,720.9 C465.42,720.3 466.64,719.52 467.6,719.4 C468.56,719.28 469.64,719.74 470,720.3 C470.36,720.86 470.1,721.78 469.4,722.2 C468.7,722.62 467.34,722.66 466.5,722.4 C465.66,722.14 464.98,721.5 465.2,720.9 Z" fill="#34504f"/>
<path d="M463.1,685.5 C464.7,685.17 470.93,684.2 472.7,685.5 C474.47,686.8 473.38,691.2 473.7,693.3 C474.02,695.4 474.68,696.35 474.6,698.1 C474.52,699.85 473.6,701.88 473.2,703.8 C472.8,705.72 472.45,708.4 472.2,709.6 C471.95,710.8 472.27,711.32 471.7,711 C471.13,710.68 470.08,708.57 468.8,707.7 C467.52,706.83 465.92,706.28 464,705.8 C462.08,705.32 458.73,705.28 457.3,704.8 C455.87,704.32 455.23,703.7 455.4,702.9 C455.57,702.1 457.02,700.8 458.3,700 C459.58,699.2 462.15,698.9 463.1,698.1 C464.05,697.3 464.17,696.33 464,695.2 C463.83,694.07 462.25,692.58 462.1,691.3 C461.95,690.02 462.93,688.47 463.1,687.5 C463.27,686.53 461.5,685.83 463.1,685.5 Z" fill="#34504f"/>
<path d="M465.5,688 C466.25,686.67 470,686.67 471,688 C472,689.33 471.67,693.5 471.5,696 C471.33,698.5 470.92,701.92 470,703 C469.08,704.08 466.58,703.67 466,702.5 C465.42,701.33 466.58,698.42 466.5,696 C466.42,693.58 464.75,689.33 465.5,688 Z" fill="#44615f"/>
<path d="M445.8,671.5 C446.19,670.51 448.95,668.84 450.6,667.5 C452.25,666.16 454.94,663.67 456.8,662.6 C458.66,661.53 461.55,661 463,660.4 C464.45,659.8 465.3,659.03 466.5,658.6 C467.7,658.17 469.39,657.62 471,657.5 C472.61,657.38 475.75,657.5 477.2,657.8 C478.65,658.1 480.04,658.98 480.7,659.5 C481.36,660.02 481.87,660.7 481.6,661.3 C481.33,661.9 479.17,662.57 478.9,663.5 C478.63,664.43 479.59,666.16 479.8,667.5 C480.01,668.84 480.44,671 480.3,672.4 C480.17,673.79 479.63,675.62 478.9,676.8 C478.16,677.98 476.12,679.5 475.4,680.3 C474.68,681.09 473.97,681.7 474.1,682.1 C474.24,682.5 475.97,682.48 476.3,683 C476.63,683.52 478.36,685.21 476.3,685.6 C474.25,685.99 464.73,686.26 462.6,685.6 C460.47,684.94 462.84,682 462.1,681.2 C461.37,680.41 458.76,680.3 457.7,680.3 C456.63,680.3 455.52,680.41 455,681.2 C454.48,682 455.13,684.94 454.2,685.6 C453.27,686.26 449.67,686.67 448.8,685.6 C447.93,684.53 448.52,680.23 448.4,678.5 C448.28,676.77 448.39,675.15 448,674.1 C447.61,673.05 445.41,672.49 445.8,671.5 Z" fill="#dc5422"/>
<path d="M452,671 C452.8,669.2 454.6,667.1 457,665.5 C459.4,663.9 461.2,663.8 464,663 C466.8,662.2 468.4,661.6 471,661.5 C473.6,661.4 475.6,661.2 477,662.5 C478.4,663.8 478.1,665.5 478,668 C477.9,670.5 477.7,672.8 476.5,675 C475.3,677.2 474.5,678.1 472,679 C469.5,679.9 467,679.8 464,679.5 C461,679.2 459.2,678.5 457,677.5 C454.8,676.5 454,675.8 453,674.5 C452,673.2 451.2,672.8 452,671 Z" fill="#e56c40"/>
<path d="M456.8,670 C457.5,668.16 458.76,666.92 461,665.8 C463.24,664.68 465.2,664.56 468,664.4 C470.8,664.24 473.3,663.88 475,665 C476.7,666.12 476.7,667.8 476.5,670 C476.3,672.2 475.7,674.3 474,676 C472.3,677.7 470.6,678.1 468,678.5 C465.4,678.9 463.1,678.7 461,678 C458.9,677.3 458.34,676.6 457.5,675 C456.66,673.4 456.1,671.84 456.8,670 Z" fill="#ee9270"/>
<path d="M461,671.5 C461.6,670.58 462.8,669.7 465,669.2 C467.2,668.7 469.92,668.64 472,669 C474.08,669.36 475.2,669.98 475.4,671 C475.6,672.02 474.88,673.4 473,674.1 C471.12,674.8 468.2,674.56 466,674.5 C463.8,674.44 463,674.4 462,673.8 C461,673.2 460.4,672.42 461,671.5 Z" fill="#f7cbbb"/>
</g>
<line x1="145.6" y1="685.4" x2="145.6" y2="745.7" stroke="#222" stroke-opacity="0.55" stroke-width="1.3"/>
<line x1="96.9" y1="685.4" x2="220.2" y2="685.4" stroke="#222" stroke-opacity="0.55" stroke-width="1.3"/>
<line x1="282.1" y1="685.4" x2="282.1" y2="745.7" stroke="#222" stroke-opacity="0.55" stroke-width="1.3"/>
<line x1="233.1" y1="685.4" x2="356.6" y2="685.4" stroke="#222" stroke-opacity="0.55" stroke-width="1.3"/>
<line x1="418" y1="685.4" x2="418" y2="745.7" stroke="#222" stroke-opacity="0.55" stroke-width="1.3"/>
<line x1="370.3" y1="685.4" x2="493.2" y2="685.4" stroke="#222" stroke-opacity="0.55" stroke-width="1.3"/>
<line x1="87" y1="816.4" x2="87" y2="1092.2" stroke="#000" stroke-width="2.3"/>
<line x1="82.5" y1="1091.2" x2="87" y2="1091.2" stroke="#000" stroke-width="2"/>
<text x="78.8" y="1100.1" font-size="20.8" text-anchor="end">0</text>
<line x1="84" y1="1056.98" x2="87" y2="1056.98" stroke="#000" stroke-width="2"/>
<line x1="82.5" y1="1022.75" x2="87" y2="1022.75" stroke="#000" stroke-width="2"/>
<text x="78.8" y="1031.65" font-size="20.8" text-anchor="end">20</text>
<line x1="84" y1="988.53" x2="87" y2="988.53" stroke="#000" stroke-width="2"/>
<line x1="82.5" y1="954.3" x2="87" y2="954.3" stroke="#000" stroke-width="2"/>
<text x="78.8" y="963.2" font-size="20.8" text-anchor="end">40</text>
<line x1="84" y1="920.08" x2="87" y2="920.08" stroke="#000" stroke-width="2"/>
<line x1="82.5" y1="885.85" x2="87" y2="885.85" stroke="#000" stroke-width="2"/>
<text x="78.8" y="894.75" font-size="20.8" text-anchor="end">60</text>
<line x1="84" y1="851.62" x2="87" y2="851.62" stroke="#000" stroke-width="2"/>
<line x1="82.5" y1="817.4" x2="87" y2="817.4" stroke="#000" stroke-width="2"/>
<text x="78.8" y="826.3" font-size="20.8" text-anchor="end">80</text>
<line x1="85.2" y1="1098.7" x2="500.5" y2="1098.7" stroke="#000" stroke-width="2.5"/>
<text transform="translate(38.8,954.2) rotate(-90)" font-size="21.1" text-anchor="middle">% of parent population</text>
<rect x="107.65" y="851.79" width="26.9" height="239.41" fill="#f2c12e" stroke="#120a04" stroke-width="1.7"/>
<line x1="121.1" y1="822.53" x2="121.1" y2="880.03" stroke="#000" stroke-width="2.3"/>
<line x1="118.3" y1="822.53" x2="123.9" y2="822.53" stroke="#000" stroke-width="2.3"/>
<line x1="118.3" y1="880.03" x2="123.9" y2="880.03" stroke="#000" stroke-width="2.3"/>
<rect x="141.85" y="1018.47" width="26.9" height="72.73" fill="#3b5856" stroke="#120a04" stroke-width="1.7"/>
<line x1="155.3" y1="995.03" x2="155.3" y2="1042.6" stroke="#000" stroke-width="2.3"/>
<line x1="152.5" y1="995.03" x2="158.1" y2="995.03" stroke="#000" stroke-width="2.3"/>
<line x1="152.5" y1="1042.6" x2="158.1" y2="1042.6" stroke="#000" stroke-width="2.3"/>
<rect x="175.85" y="1065.7" width="26.9" height="25.5" fill="#cc521f" stroke="#120a04" stroke-width="1.7"/>
<line x1="189.3" y1="1054.92" x2="189.3" y2="1076.14" stroke="#000" stroke-width="2.3"/>
<line x1="186.5" y1="1054.92" x2="192.1" y2="1054.92" stroke="#000" stroke-width="2.3"/>
<line x1="186.5" y1="1076.14" x2="192.1" y2="1076.14" stroke="#000" stroke-width="2.3"/>
<rect x="244.55" y="988.01" width="26.9" height="103.19" fill="#f2c12e" stroke="#120a04" stroke-width="1.7"/>
<line x1="258" y1="948.14" x2="258" y2="1026.17" stroke="#000" stroke-width="2.3"/>
<line x1="255.2" y1="948.14" x2="260.8" y2="948.14" stroke="#000" stroke-width="2.3"/>
<line x1="255.2" y1="1026.17" x2="260.8" y2="1026.17" stroke="#000" stroke-width="2.3"/>
<text x="258.5" y="938.6" font-size="22" text-anchor="middle" dy="0.4">*</text>
<rect x="279.05" y="999.3" width="26.9" height="91.9" fill="#3b5856" stroke="#120a04" stroke-width="1.7"/>
<line x1="292.5" y1="961.49" x2="292.5" y2="1036.1" stroke="#000" stroke-width="2.3"/>
<line x1="289.7" y1="961.49" x2="295.3" y2="961.49" stroke="#000" stroke-width="2.3"/>
<line x1="289.7" y1="1036.1" x2="295.3" y2="1036.1" stroke="#000" stroke-width="2.3"/>
<rect x="313.15" y="956.86" width="26.9" height="134.34" fill="#cc521f" stroke="#120a04" stroke-width="1.7"/>
<line x1="326.6" y1="906.38" x2="326.6" y2="1006.66" stroke="#000" stroke-width="2.3"/>
<line x1="323.8" y1="906.38" x2="329.4" y2="906.38" stroke="#000" stroke-width="2.3"/>
<line x1="323.8" y1="1006.66" x2="329.4" y2="1006.66" stroke="#000" stroke-width="2.3"/>
<text x="326.5" y="898.6" font-size="22" text-anchor="middle" dy="0.4">*</text>
<rect x="382.35" y="1059.88" width="26.9" height="31.32" fill="#f2c12e" stroke="#120a04" stroke-width="1.7"/>
<line x1="395.8" y1="1050.81" x2="395.8" y2="1067.93" stroke="#000" stroke-width="2.3"/>
<line x1="393" y1="1050.81" x2="398.6" y2="1050.81" stroke="#000" stroke-width="2.3"/>
<line x1="393" y1="1067.93" x2="398.6" y2="1067.93" stroke="#000" stroke-width="2.3"/>
<text x="394.7" y="1046.6" font-size="22" text-anchor="middle" dy="0.4">*</text>
<rect x="416.35" y="1004.09" width="26.9" height="87.11" fill="#3b5856" stroke="#120a04" stroke-width="1.7"/>
<line x1="429.8" y1="968.67" x2="429.8" y2="1038.49" stroke="#000" stroke-width="2.3"/>
<line x1="427" y1="968.67" x2="432.6" y2="968.67" stroke="#000" stroke-width="2.3"/>
<line x1="427" y1="1038.49" x2="432.6" y2="1038.49" stroke="#000" stroke-width="2.3"/>
<rect x="450.45" y="877.46" width="26.9" height="213.74" fill="#cc521f" stroke="#120a04" stroke-width="1.7"/>
<line x1="463.9" y1="846.15" x2="463.9" y2="907.41" stroke="#000" stroke-width="2.3"/>
<line x1="461.1" y1="846.15" x2="466.7" y2="846.15" stroke="#000" stroke-width="2.3"/>
<line x1="461.1" y1="907.41" x2="466.7" y2="907.41" stroke="#000" stroke-width="2.3"/>
<text x="464" y="835.4" font-size="22" text-anchor="middle" dy="0.4">*</text>
<rect x="197.4" y="815.6" width="12.4" height="11.8" fill="#f2c12e" stroke="#111" stroke-width="1.4"/>
<text x="216" y="827" font-size="17.1">Viable</text>
<rect x="197.4" y="834.6" width="12.4" height="11.8" fill="#3b5856" stroke="#111" stroke-width="1.4"/>
<text x="216" y="846" font-size="17.1">Apoptotic</text>
<rect x="197.4" y="853.4" width="12.4" height="11.8" fill="#cc521f" stroke="#111" stroke-width="1.4"/>
<text x="216" y="864.8" font-size="17.1">Necrotic</text>
<text x="156" y="1123" font-size="21" text-anchor="middle">Control</text>
<text x="156" y="1145.4" font-size="21" text-anchor="middle">shRNA</text>
<text x="291" y="1123" font-size="21" text-anchor="middle">IL1RAP</text>
<text x="291" y="1145.4" font-size="21" text-anchor="middle">shRNA#1</text>
<text x="428.3" y="1123" font-size="21" text-anchor="middle">IL1RAP</text>
<text x="428.3" y="1145.4" font-size="21" text-anchor="middle">shRNA#2</text>
</svg>
</body></html>
